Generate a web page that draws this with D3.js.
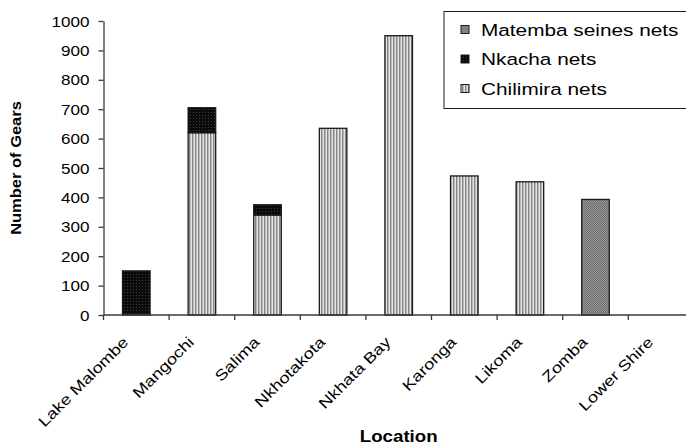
<!DOCTYPE html>
<html>
<head>
<meta charset="utf-8">
<script src="https://cdn.jsdelivr.net/npm/d3@7"></script>
<style>
  html, body { margin: 0; padding: 0; background: #fff; }
  svg { display: block; font-family: "Liberation Sans", Arial, sans-serif; }
</style>
</head>
<body>
<svg id="chart" width="686" height="446"></svg>
<script>
// Fishing gear counts by location
const categories = ["Lake Malombe", "Mangochi", "Salima", "Nkhotakota", "Nkhata Bay",
                    "Karonga", "Likoma", "Zomba", "Lower Shire"];
const chilimira = [5, 620, 340, 635, 950, 473, 453, 0, 0];
const nkacha    = [145, 85, 35, 0, 0, 0, 0, 0, 0];
const matemba   = [0, 0, 0, 0, 0, 0, 0, 393, 0];
const seriesNames = ["Chilimira nets", "Nkacha nets", "Matemba seines nets"];
const yTicks = [0, 100, 200, 300, 400, 500, 600, 700, 800, 900, 1000];

const svg = d3.select("#chart");
const defs = svg.append("defs");

// Fill patterns for each gear type
const pStripe = defs.append("pattern").attr("id", "p-chilimira")
  .attr("patternUnits", "userSpaceOnUse").attr("width", 3).attr("height", 3);
pStripe.append("rect").attr("width", 3).attr("height", 3).attr("fill", "#e6e6e6");
pStripe.append("rect").attr("x", 0).attr("width", 1).attr("height", 3).attr("fill", "#858585");
pStripe.append("rect").attr("x", 1).attr("width", 1).attr("height", 3).attr("fill", "#b8b8b8");

const pDots = defs.append("pattern").attr("id", "p-nkacha")
  .attr("patternUnits", "userSpaceOnUse").attr("width", 3).attr("height", 3);
pDots.append("rect").attr("width", 3).attr("height", 3).attr("fill", "#0a0a0a");
pDots.append("rect").attr("x", 1).attr("y", 1).attr("width", 1).attr("height", 1).attr("fill", "#3c3c3c");

const pCheck = defs.append("pattern").attr("id", "p-matemba")
  .attr("patternUnits", "userSpaceOnUse").attr("width", 2).attr("height", 2);
pCheck.append("rect").attr("width", 2).attr("height", 2).attr("fill", "#9a9a9a");
pCheck.append("rect").attr("width", 1).attr("height", 1).attr("fill", "#666");
pCheck.append("rect").attr("x", 1).attr("y", 1).attr("width", 1).attr("height", 1).attr("fill", "#6e6e6e");

const fills = {
  "Chilimira nets": "url(#p-chilimira)",
  "Nkacha nets": "url(#p-nkacha)",
  "Matemba seines nets": "url(#p-matemba)"
};

// Layout
const x0 = 103.5, step = 65.6, y0 = 315, yTop = 21;
const x = d3.scaleBand().domain(categories)
  .range([x0, x0 + step * categories.length])
  .paddingInner(0.58).paddingOuter(0.29);
const y = d3.scaleLinear().domain([0, 1000]).range([y0, yTop]);

const table = categories.map((c, i) => ({
  cat: c,
  "Chilimira nets": chilimira[i],
  "Nkacha nets": nkacha[i],
  "Matemba seines nets": matemba[i]
}));
const stacked = d3.stack().keys(seriesNames)(table);

// Bars
const gBars = svg.append("g");
stacked.forEach(layer => {
  gBars.selectAll(null).data(layer.filter(d => d[1] - d[0] > 0)).enter()
    .append("rect")
    .attr("x", d => x(d.data.cat))
    .attr("width", x.bandwidth())
    .attr("y", d => y(d[1]))
    .attr("height", d => y(d[0]) - y(d[1]))
    .attr("fill", fills[layer.key])
    .attr("stroke", "#1a1a1a")
    .attr("stroke-width", 1.3);
});

// Y axis
const axisColor = "#3a3a3a";
const yAxis = svg.append("g").attr("transform", `translate(${x0},0)`)
  .call(d3.axisLeft(y).tickValues(yTicks).tickSize(5).tickSizeOuter(0).tickFormat(d3.format("d")));
yAxis.select(".domain").attr("stroke", axisColor).attr("stroke-width", 1.3);
yAxis.selectAll(".tick line").attr("stroke", axisColor).attr("stroke-width", 1.3);
yAxis.selectAll(".tick text")
  .attr("x", -11.5).attr("dy", "0.36em")
  .attr("transform", "scale(1.22,1)")
  .attr("font-size", 14).attr("fill", "#000")
  .attr("font-family", "'Liberation Sans', Arial, sans-serif");

// X axis line and tick marks at category boundaries
const gX = svg.append("g");
gX.append("line")
  .attr("x1", x0).attr("x2", x0 + step * categories.length)
  .attr("y1", y0).attr("y2", y0)
  .attr("stroke", axisColor).attr("stroke-width", 1.3);
gX.selectAll(null).data(d3.range(categories.length + 1)).enter()
  .append("line")
  .attr("x1", i => x0 + i * step).attr("x2", i => x0 + i * step)
  .attr("y1", y0).attr("y2", y0 + 5)
  .attr("stroke", axisColor).attr("stroke-width", 1.3);

// Rotated category labels
gX.selectAll(null).data(categories).enter()
  .append("text")
  .attr("transform", d => `translate(${x(d) + x.bandwidth() / 2 - 7},${y0 + 28}) rotate(-45) scale(1.22,1)`)
  .attr("text-anchor", "end")
  .attr("font-size", 15)
  .text(d => d);

// Axis titles
svg.append("text")
  .attr("transform", `translate(${x0 + step * categories.length / 2},442) scale(1.17,1)`)
  .attr("text-anchor", "middle")
  .attr("font-size", 16).attr("font-weight", "bold")
  .text("Location");

svg.append("text")
  .attr("transform", `translate(21,${(y0 + yTop) / 2}) rotate(-90) scale(1.1,1)`)
  .attr("text-anchor", "middle")
  .attr("font-size", 15).attr("font-weight", "bold")
  .text("Number of Gears");

// Legend
const legendItems = seriesNames.slice().reverse();
const legend = svg.append("g");
legend.append("rect")
  .attr("x", 444).attr("y", 11.5).attr("width", 260).attr("height", 97)
  .attr("fill", "#fff").attr("stroke", "#1a1a1a").attr("stroke-width", 1);
const li = legend.selectAll(null).data(legendItems).enter()
  .append("g")
  .attr("transform", (d, i) => `translate(0,${29.5 + i * 29.5})`);
li.append("rect")
  .attr("x", 461).attr("y", -4).attr("width", 8).attr("height", 8)
  .attr("fill", d => fills[d]).attr("stroke", "#1a1a1a").attr("stroke-width", 1);
li.append("text")
  .attr("transform", "translate(481,6) scale(1.26,1)")
  .attr("font-size", 16.5)
  .text(d => d);
</script>
</body>
</html>
